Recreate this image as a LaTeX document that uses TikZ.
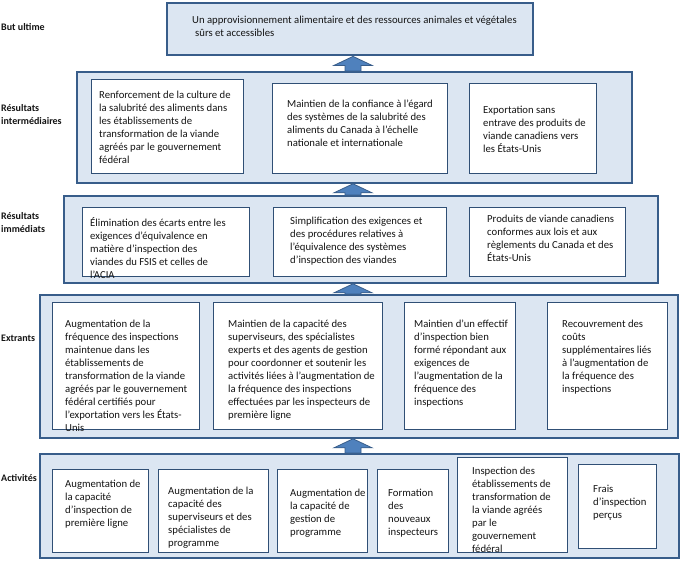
\documentclass[tikz,border=0pt]{standalone}
\usepackage{fontspec}
\setmainfont{Carlito}
\usepackage{tikz}
\usetikzlibrary{calc, positioning}
\definecolor{paleBlue}{RGB}{220,230,242}
\definecolor{edgeBlue}{RGB}{56,93,138}
\definecolor{arrowBlue}{RGB}{79,129,189}
\tikzset{
    outerBox/.style={draw=edgeBlue, fill=paleBlue, line width=1.8pt, inner sep=0pt, anchor=north west},
    goalBox/.style={outerBox, line width=2.4pt},
    innerBox/.style={draw=edgeBlue!85!black, fill=white, line width=1.1pt, inner sep=0pt, anchor=north west},
    boxText/.style={anchor=north west, inner sep=0pt, align=left, text=black!92, yshift=-2.5pt,
        font=\fontsize{10.7}{13}\selectfont, execute at begin node={\strut}},
    levelLabel/.style={boxText, font=\fontsize{10}{13}\selectfont\bfseries},
    upArrow/.style={fill=arrowBlue, draw=edgeBlue, line width=0.8pt}
}
\newcommand{\blockArrow}[2]{%
    \filldraw[upArrow] let \p1=(ax |- #1.north), \p2=(ax |- #2.south) in
        (\x1-8,\y1) -- (\x1-8,\y2-9) -- (\x1-19,\y2-9) -- (\x2,\y2)
        -- (\x1+19,\y2-9) -- (\x1+8,\y2-9) -- (\x1+8,\y1) -- cycle;}
\begin{document}
\begin{tikzpicture}[x=1pt, y=-1pt]
    \useasboundingbox (0,0) rectangle (680,560);
    \coordinate (ax) at (353,0);
    % level labels
    \node[levelLabel] (lGoal) at (1,19) {But ultime};
    \node[levelLabel] (lInter) at (1,102) {Résultats\\intermédiaires};
    \node[levelLabel] (lImm) at (1,210) {Résultats\\immédiats};
    \node[levelLabel] (lOut) at (1,330) {Extrants};
    \node[levelLabel] (lAct) at (1,470) {Activités};
    % outer boxes
    \node[goalBox, minimum width=366, minimum height=52] (goal) at (166,2) {};
    \node[outerBox, minimum width=555, minimum height=111] (inter) at (76,71) {};
    \node[outerBox, minimum width=594, minimum height=87] (imm) at (63,195) {};
    \node[outerBox, minimum width=638, minimum height=143] (outp) at (39,294) {};
    \node[outerBox, minimum width=639, minimum height=104] (act) at (39,453) {};
    % arrows between levels
    \blockArrow{inter}{goal}
    \blockArrow{imm}{inter}
    \blockArrow{outp}{imm}
    \blockArrow{act}{outp}
    % ultimate outcome
    \node[boxText] (goalT) at (192,13) {Un approvisionnement alimentaire et des ressources animales et végétales\\\hspace{3pt}sûrs et accessibles};
    % intermediate outcomes
    \node[innerBox, minimum width=152, minimum height=94] (inter1) at (91,79) {};
    \node[innerBox, minimum width=175, minimum height=90] (inter2) at (272,83) {};
    \node[innerBox, minimum width=127, minimum height=90] (inter3) at (469,83) {};
    \node[boxText] (inter1T) at (99,88) {Renforcement de la culture de\\la salubrité des aliments dans\\les établissements de\\transformation de la viande\\agréés par le gouvernement\\fédéral};
    \node[boxText] (inter2T) at (287,97) {Maintien de la confiance à l’égard\\des systèmes de la salubrité des\\aliments du Canada à l’échelle\\nationale et internationale};
    \node[boxText] (inter3T) at (483,103) {Exportation sans\\entrave des produits de\\viande canadiens vers\\les États-Unis};
    % immediate outcomes
    \node[innerBox, minimum width=167, minimum height=69] (imm1) at (82,207) {};
    \node[innerBox, minimum width=173, minimum height=69] (imm2) at (273,207) {};
    \node[innerBox, minimum width=156, minimum height=69] (imm3) at (469,207) {};
    \node[boxText] (imm1T) at (90,215) {Élimination des écarts entre les\\exigences d’équivalence en\\matière d’inspection des\\viandes du FSIS et celles de\\l’ACIA};
    \node[boxText] (imm2T) at (290,214) {Simplification des exigences et\\des procédures relatives à\\l’équivalence des systèmes\\d’inspection des viandes};
    \node[boxText] (imm3T) at (487,212) {Produits de viande canadiens\\conformes aux lois et aux\\règlements du Canada et des\\États-Unis};
    % outputs
    \node[innerBox, minimum width=147, minimum height=127] (outp1) at (52,302) {};
    \node[innerBox, minimum width=169, minimum height=127] (outp2) at (213,302) {};
    \node[innerBox, minimum width=111, minimum height=127] (outp3) at (404,302) {};
    \node[innerBox, minimum width=120, minimum height=127] (outp4) at (547,302) {};
    \node[boxText] (outp1T) at (65,317) {Augmentation de la\\fréquence des inspections\\maintenue dans les\\établissements de\\transformation de la viande\\agréés par le gouvernement\\fédéral certifiés pour\\l’exportation vers les États-\\Unis};
    \node[boxText] (outp2T) at (228,317) {Maintien de la capacité des\\superviseurs, des spécialistes\\experts et des agents de gestion\\pour coordonner et soutenir les\\activités liées à l’augmentation de\\la fréquence des inspections\\effectuées par les inspecteurs de\\première ligne};
    \node[boxText] (outp3T) at (414,317) {Maintien d’un effectif\\d’inspection bien\\formé répondant aux\\exigences de\\l’augmentation de la\\fréquence des\\inspections};
    \node[boxText] (outp4T) at (562,317) {Recouvrement des\\coûts\\supplémentaires liés\\à l’augmentation de\\la fréquence des\\inspections};
    % activities
    \node[innerBox, minimum width=96, minimum height=83] (act1) at (52,469) {};
    \node[innerBox, minimum width=110, minimum height=83] (act2) at (158,469) {};
    \node[innerBox, minimum width=90, minimum height=83] (act3) at (277,469) {};
    \node[innerBox, minimum width=71, minimum height=83] (act4) at (377,469) {};
    \node[innerBox, minimum width=110, minimum height=95] (act5) at (457,457) {};
    \node[innerBox, minimum width=78, minimum height=84] (act6) at (578,464) {};
    \node[boxText] (act1T) at (65,477) {Augmentation de\\la capacité\\d’inspection de\\première ligne};
    \node[boxText] (act2T) at (168,484) {Augmentation de la\\capacité des\\superviseurs et des\\spécialistes de\\programme};
    \node[boxText] (act3T) at (290,486) {Augmentation de\\la capacité de\\gestion de\\programme};
    \node[boxText] (act4T) at (388,486) {Formation\\des\\nouveaux\\inspecteurs};
    \node[boxText] (act5T) at (472,464) {Inspection des\\établissements de\\transformation de\\la viande agréés\\par le\\gouvernement\\fédéral};
    \node[boxText] (act6T) at (593,482) {Frais\\d’inspection\\perçus};
\end{tikzpicture}
\end{document}
